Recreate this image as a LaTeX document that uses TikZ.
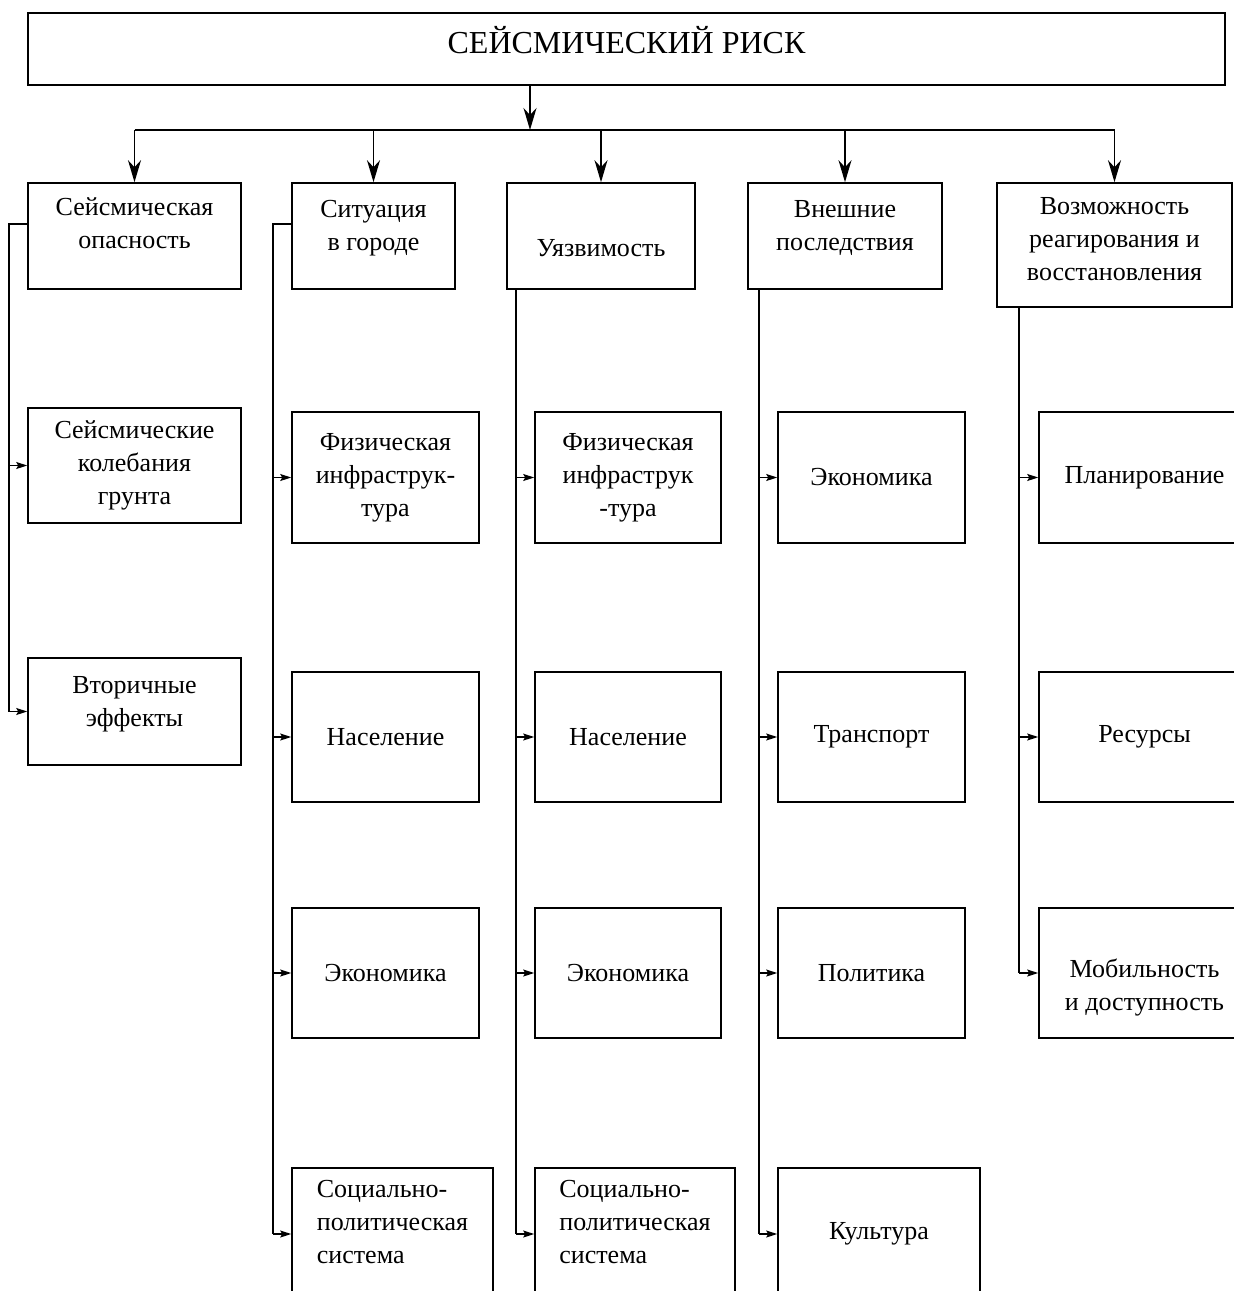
\documentclass[tikz,border=0pt]{standalone}
\usepackage{fontspec}
\setmainfont{Liberation Serif}
\usepackage{tikz}
\usetikzlibrary{arrows.meta, positioning, calc}
\newcommand{\bodyfont}{\fontsize{26}{33}\selectfont}
\newcommand{\titlefont}{\fontsize{32}{38}\selectfont}
\tikzstyle{box} = [rectangle, draw=black, line width=1.6pt, align=center, font=\bodyfont, inner sep=0pt]
\tikzstyle{line} = [line width=1.6pt]
\tikzstyle{bigarrow} = [line width=1.6pt, -{Stealth[length=22pt, width=13pt, inset=7pt]}]
\tikzstyle{arrow} = [line width=1.3pt, -{Stealth[length=11pt, width=7pt, inset=2pt]}]

\begin{document}
\begin{tikzpicture}[x=1pt, y=-1pt]
    \useasboundingbox (0,0) rectangle (1234,1291);
    \clip (0,0) rectangle (1234,1291);

    % Заголовок
    \node (risk) [box, font=\titlefont, minimum width=1197pt, minimum height=72pt, text depth=18pt] at (626.5,49) {СЕЙСМИЧЕСКИЙ РИСК};

    % Верхний ряд
    \node (s1) [box, minimum width=213pt, minimum height=106pt, text depth=26pt] at (134.5,236) {Сейсмическая\\опасность};
    \node (s2) [box, minimum width=163pt, minimum height=106pt, text depth=22pt] at (373.5,236) {Ситуация\\в городе};
    \node (s3) [box, minimum width=188pt, minimum height=106pt, text height=42pt] at (601,236) {Уязвимость};
    \node (s4) [box, minimum width=194pt, minimum height=106pt, text depth=22pt] at (845,236) {Внешние\\последствия};
    \node (s5) [box, minimum width=235pt, minimum height=124pt, text depth=12pt] at (1114.5,245) {Возможность\\реагирования и\\восстановления};

    % Сейсмическая опасность
    \node (c1a) [box, minimum width=213pt, minimum height=115pt] at (134.5,465.5) {Сейсмические\\колебания\\грунта};
    \node (c1b) [box, minimum width=213pt, minimum height=107pt, text depth=20pt] at (134.5,711.5) {Вторичные\\эффекты};

    % Ситуация в городе
    \node (c2a) [box, minimum width=187pt, minimum height=131pt] at (385.5,477.5) {Физическая\\инфраструк-\\тура};
    \node (c2b) [box, minimum width=187pt, minimum height=130pt] at (385.5,737) {Население};
    \node (c2c) [box, minimum width=187pt, minimum height=130pt] at (385.5,973) {Экономика};
    \node (c2d) [box, align=left, minimum width=201pt, minimum height=132pt, text depth=24pt] at (392.5,1234) {Социально-\\политическая\\система};

    % Уязвимость
    \node (c3a) [box, minimum width=186pt, minimum height=131pt] at (628,477.5) {Физическая\\инфраструк\\-тура};
    \node (c3b) [box, minimum width=186pt, minimum height=130pt] at (628,737) {Население};
    \node (c3c) [box, minimum width=186pt, minimum height=130pt] at (628,973) {Экономика};
    \node (c3d) [box, align=left, minimum width=200pt, minimum height=132pt, text depth=24pt] at (635,1234) {Социально-\\политическая\\система};

    % Внешние последствия
    \node (c4a) [box, minimum width=187pt, minimum height=131pt] at (871.5,477.5) {Экономика};
    \node (c4b) [box, minimum width=187pt, minimum height=130pt] at (871.5,737) {Транспорт};
    \node (c4c) [box, minimum width=187pt, minimum height=130pt] at (871.5,973) {Политика};
    \node (c4d) [box, minimum width=202pt, minimum height=132pt] at (879,1234) {Культура};

    % Возможность реагирования
    \node (c5a) [box, minimum width=211pt, minimum height=131pt] at (1144.5,477.5) {Планирование};
    \node (c5b) [box, minimum width=211pt, minimum height=130pt] at (1144.5,737) {Ресурсы};
    \node (c5c) [box, minimum width=211pt, minimum height=130pt, text height=80pt] at (1144.5,973) {Мобильность\\и доступность};

    % Шина сверху
    \coordinate (bus) at (530,130);
    \draw[bigarrow] (risk.south -| bus) -- (bus);
    \draw[line] (s1.north |- bus) -- (s5.north |- bus);
    \draw[bigarrow] (s1.north |- bus) -- (s1.north);
    \draw[bigarrow] (s2.north |- bus) -- (s2.north);
    \draw[bigarrow] (s3.north |- bus) -- (s3.north);
    \draw[bigarrow] (s4.north |- bus) -- (s4.north);
    \draw[bigarrow] (s5.north |- bus) -- (s5.north);

    % Боковые линии
    \coordinate (k1) at ([xshift=-18pt]c1a.west);
    \coordinate (k2) at ([xshift=-18pt]c2a.west);
    \coordinate (k3) at ([xshift=-18pt]c3a.west);
    \coordinate (k4) at ([xshift=-18pt]c4a.west);
    \coordinate (k5) at ([xshift=-19pt]c5a.west);

    \draw[line] ([yshift=-42pt]s1.north west) -| (k1 |- c1b.west);
    \draw[arrow] (k1) -- (c1a.west);
    \draw[arrow] (k1 |- c1b.west) -- (c1b.west);

    \draw[line] ([yshift=-42pt]s2.north west) -| (k2 |- c2d.west);
    \draw[arrow] (k2) -- (c2a.west);
    \draw[arrow] (k2 |- c2b.west) -- (c2b.west);
    \draw[arrow] (k2 |- c2c.west) -- (c2c.west);
    \draw[arrow] (k2 |- c2d.west) -- (c2d.west);

    \draw[line] (k3 |- s3.south) -- (k3 |- c3d.west);
    \draw[arrow] (k3) -- (c3a.west);
    \draw[arrow] (k3 |- c3b.west) -- (c3b.west);
    \draw[arrow] (k3 |- c3c.west) -- (c3c.west);
    \draw[arrow] (k3 |- c3d.west) -- (c3d.west);

    \draw[line] (k4 |- s4.south) -- (k4 |- c4d.west);
    \draw[arrow] (k4) -- (c4a.west);
    \draw[arrow] (k4 |- c4b.west) -- (c4b.west);
    \draw[arrow] (k4 |- c4c.west) -- (c4c.west);
    \draw[arrow] (k4 |- c4d.west) -- (c4d.west);

    \draw[line] (k5 |- s5.south) -- (k5 |- c5c.west);
    \draw[arrow] (k5) -- (c5a.west);
    \draw[arrow] (k5 |- c5b.west) -- (c5b.west);
    \draw[arrow] (k5 |- c5c.west) -- (c5c.west);
\end{tikzpicture}
\end{document}
